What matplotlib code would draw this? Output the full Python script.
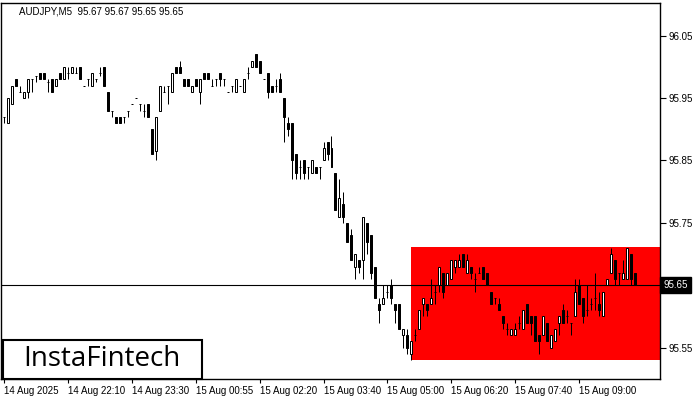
import matplotlib
matplotlib.use("Agg")
import matplotlib.pyplot as plt
from matplotlib.patches import Rectangle

opens = [95.92, 95.91, 95.94, 95.98, 95.96, 95.95, 95.96, 95.98, 95.985, 95.99,
         95.99, 95.975, 95.98, 95.97, 95.99, 95.98, 95.99, 95.99, 95.99, 96.00,
         95.97, 95.98, 95.97, 95.98, 95.99, 96.00, 95.96, 95.93, 95.92, 95.92,
         95.92, 95.93, 95.94, 95.95, 95.94, 95.93, 95.94, 95.90, 95.865, 95.93,
         95.96, 95.97, 95.96, 96.00, 96.00, 95.98, 95.98, 95.96, 95.98, 95.96,
         95.99, 95.99, 95.97, 95.98, 95.99, 95.98, 95.96, 95.97, 95.96, 95.97,
         95.96, 95.99, 96.00, 96.02, 96.01, 95.98, 95.99, 95.97, 95.97, 95.98,
         95.95, 95.91, 95.91, 95.86, 95.84, 95.85, 95.84, 95.83, 95.84, 95.84,
         95.85, 95.88, 95.87, 95.83, 95.76, 95.78, 95.75, 95.73, 95.68, 95.69,
         95.69, 95.75, 95.73, 95.68, 95.62, 95.62, 95.64, 95.65, 95.62, 95.62,
         95.57, 95.57, 95.54, 95.57, 95.58, 95.62, 95.62, 95.62, 95.64, 95.65,
         95.67, 95.65, 95.66, 95.68, 95.68, 95.70, 95.67, 95.68, 95.66, 95.67,
         95.68, 95.67, 95.64, 95.63, 95.62, 95.60, 95.58, 95.57, 95.57, 95.59,
         95.58, 95.62, 95.60, 95.60, 95.57, 95.57, 95.59, 95.55, 95.56, 95.59,
         95.61, 95.60, 95.59, 95.60, 95.65, 95.63, 95.61, 95.62, 95.63, 95.62,
         95.60, 95.65, 95.67, 95.69, 95.67, 95.66, 95.66, 95.70, 95.67]
highs = [95.92, 95.95, 95.97, 95.98, 95.97, 95.96, 95.98, 95.98, 95.985, 95.99,
         95.99, 95.98, 95.98, 95.98, 95.99, 96.00, 96.00, 96.00, 96.00, 96.00,
         95.97, 95.98, 95.99, 95.98, 96.00, 96.00, 95.96, 95.93, 95.92, 95.92,
         95.92, 95.93, 95.94, 95.95, 95.94, 95.94, 95.94, 95.90, 95.92, 95.97,
         95.97, 95.97, 95.99, 96.00, 96.01, 95.98, 95.98, 95.97, 95.98, 95.98,
         95.99, 95.99, 95.98, 95.98, 95.99, 95.98, 95.96, 95.97, 95.98, 95.97,
         95.98, 96.00, 96.01, 96.02, 96.01, 95.98, 95.99, 95.97, 95.98, 95.99,
         95.95, 95.92, 95.91, 95.86, 95.85, 95.85, 95.84, 95.85, 95.84, 95.84,
         95.88, 95.88, 95.89, 95.83, 95.82, 95.80, 95.75, 95.74, 95.70, 95.69,
         95.76, 95.75, 95.73, 95.68, 95.63, 95.65, 95.65, 95.66, 95.62, 95.62,
         95.58, 95.58, 95.56, 95.58, 95.61, 95.63, 95.62, 95.66, 95.65, 95.68,
         95.67, 95.67, 95.69, 95.69, 95.70, 95.70, 95.70, 95.68, 95.67, 95.68,
         95.68, 95.67, 95.64, 95.63, 95.63, 95.60, 95.59, 95.58, 95.59, 95.60,
         95.61, 95.62, 95.60, 95.60, 95.57, 95.60, 95.59, 95.57, 95.58, 95.60,
         95.62, 95.61, 95.59, 95.66, 95.66, 95.63, 95.65, 95.63, 95.67, 95.64,
         95.64, 95.66, 95.71, 95.69, 95.67, 95.69, 95.71, 95.70, 95.67]
lows = [95.91, 95.91, 95.94, 95.97, 95.96, 95.95, 95.95, 95.96, 95.975, 95.98,
        95.98, 95.96, 95.96, 95.97, 95.98, 95.98, 95.98, 95.99, 95.99, 95.98,
        95.97, 95.97, 95.97, 95.975, 95.985, 95.97, 95.93, 95.92, 95.91, 95.91,
        95.91, 95.92, 95.94, 95.95, 95.93, 95.92, 95.92, 95.86, 95.85, 95.93,
        95.96, 95.94, 95.96, 95.99, 95.99, 95.97, 95.97, 95.96, 95.97, 95.94,
        95.98, 95.98, 95.97, 95.97, 95.97, 95.97, 95.96, 95.96, 95.96, 95.97,
        95.96, 95.98, 96.00, 96.00, 95.99, 95.98, 95.95, 95.96, 95.96, 95.96,
        95.88, 95.89, 95.82, 95.82, 95.82, 95.82, 95.82, 95.83, 95.83, 95.82,
        95.85, 95.85, 95.84, 95.77, 95.76, 95.75, 95.72, 95.69, 95.66, 95.67,
        95.66, 95.70, 95.66, 95.63, 95.59, 95.62, 95.63, 95.62, 95.59, 95.58,
        95.55, 95.54, 95.53, 95.56, 95.58, 95.60, 95.60, 95.62, 95.62, 95.64,
        95.63, 95.65, 95.66, 95.67, 95.68, 95.68, 95.67, 95.66, 95.64, 95.67,
        95.66, 95.65, 95.62, 95.62, 95.61, 95.58, 95.57, 95.57, 95.57, 95.58,
        95.58, 95.59, 95.57, 95.56, 95.54, 95.57, 95.56, 95.55, 95.56, 95.57,
        95.59, 95.59, 95.57, 95.60, 95.62, 95.59, 95.60, 95.61, 95.61, 95.60,
        95.60, 95.65, 95.67, 95.65, 95.65, 95.66, 95.66, 95.65, 95.65]
closes = [95.92, 95.95, 95.97, 95.97, 95.96, 95.96, 95.98, 95.98, 95.985, 95.98,
          95.98, 95.975, 95.96, 95.98, 95.98, 96.00, 95.99, 96.00, 95.99, 95.98,
          95.97, 95.98, 95.99, 95.98, 95.99, 95.97, 95.93, 95.93, 95.91, 95.91,
          95.92, 95.93, 95.94, 95.95, 95.94, 95.93, 95.92, 95.86, 95.92, 95.97,
          95.96, 95.97, 95.99, 95.99, 95.99, 95.97, 95.97, 95.97, 95.97, 95.98,
          95.98, 95.98, 95.97, 95.98, 95.98, 95.98, 95.96, 95.97, 95.98, 95.97,
          95.98, 95.99, 96.01, 96.00, 95.99, 95.98, 95.96, 95.96, 95.97, 95.96,
          95.92, 95.90, 95.85, 95.83, 95.84, 95.83, 95.84, 95.85, 95.83, 95.84,
          95.87, 95.86, 95.84, 95.77, 95.79, 95.76, 95.72, 95.69, 95.70, 95.68,
          95.76, 95.72, 95.67, 95.63, 95.61, 95.63, 95.64, 95.63, 95.61, 95.58,
          95.58, 95.55, 95.56, 95.57, 95.61, 95.63, 95.61, 95.63, 95.64, 95.68,
          95.64, 95.67, 95.69, 95.69, 95.69, 95.68, 95.69, 95.67, 95.66, 95.67,
          95.66, 95.65, 95.62, 95.63, 95.61, 95.59, 95.58, 95.58, 95.58, 95.59,
          95.61, 95.59, 95.59, 95.56, 95.56, 95.60, 95.56, 95.57, 95.58, 95.60,
          95.59, 95.60, 95.59, 95.64, 95.62, 95.60, 95.61, 95.62, 95.63, 95.61,
          95.64, 95.66, 95.70, 95.66, 95.67, 95.67, 95.71, 95.66, 95.65]

tick_positions = [0, 16, 32, 48, 64, 80, 96, 112, 128, 144]
tick_labels = ["14 Aug 2025", "14 Aug 22:10", "14 Aug 23:30", "15 Aug 00:55",
               "15 Aug 02:20", "15 Aug 03:40", "15 Aug 05:00", "15 Aug 06:20",
               "15 Aug 07:40", "15 Aug 09:00"]
price_ticks = [95.55, 95.65, 95.75, 95.85, 95.95, 96.05]
current_price = 95.65
zone_start = 102
zone_low = 95.530
zone_high = 95.712
title_text = "AUDJPY,M5  95.67 95.67 95.65 95.65"

plt.rcParams["font.family"] = ["Liberation Sans", "DejaVu Sans"]

fig = plt.figure(figsize=(7, 4), dpi=100)
ax = fig.add_axes([1 / 700, 21 / 400, 659 / 700, 376 / 400])

n = len(opens)
xs = list(range(n))
ax.set_xlim(-0.75, 164.25)
ax.set_ylim(95.4998, 96.1024)

# red rectangle zone
ax.add_patch(Rectangle((zone_start - 0.1, zone_low), 200, zone_high - zone_low,
                       facecolor="#ff0000", edgecolor="none", zorder=1))

# wicks
ax.vlines(xs, lows, highs, color="black", linewidth=0.72, zorder=2)

# bodies
for i in range(n):
    o, c = opens[i], closes[i]
    bottom = min(o, c)
    height = abs(c - o)
    fc = "white" if c > o else "black"
    ax.add_patch(Rectangle((i - 0.25, bottom), 0.5, height, facecolor=fc,
                           edgecolor="black", linewidth=0.72, zorder=3))

# current price line
ax.axhline(current_price, color="black", linewidth=0.8, zorder=4)

# axes styling
for s in ax.spines.values():
    s.set_color("black")
    s.set_linewidth(1.0)
ax.yaxis.tick_right()
ax.set_yticks(price_ticks)
ax.set_yticklabels([("" if abs(p - current_price) < 1e-9 else f"{p:.2f}") for p in price_ticks])
ax.tick_params(axis="y", direction="out", length=4, width=0.8, labelsize=7, pad=2,
               colors="black")
ax.set_xticks(tick_positions)
ax.set_xticklabels(tick_labels)
ax.tick_params(axis="x", direction="out", length=3, width=0.8, labelsize=7, pad=2)
for lab in ax.get_xticklabels():
    lab.set_ha("left")

# current price box
ax.text(1.005, current_price, "95.65", transform=ax.get_yaxis_transform(),
        ha="left", va="center", fontsize=7, color="white",
        bbox=dict(boxstyle="square,pad=0.3", facecolor="black", edgecolor="black"),
        zorder=10, clip_on=False)

# title
fig.text(19 / 700, 1 - 11.5 / 400, title_text, ha="left", va="center", fontsize=7,
         color="black")

# logo box
fig.patches.append(Rectangle((3 / 700, 21 / 400), 199 / 700, 39 / 400,
                             transform=fig.transFigure, facecolor="white",
                             edgecolor="black", linewidth=1.5, zorder=20))
fig.text(102 / 700, 1 - 359 / 400, "InstaFintech", ha="center", va="center",
         fontsize=20, color="black", family=["Open Sans", "DejaVu Sans"], zorder=21)

fig.savefig("out.png", dpi=100)
